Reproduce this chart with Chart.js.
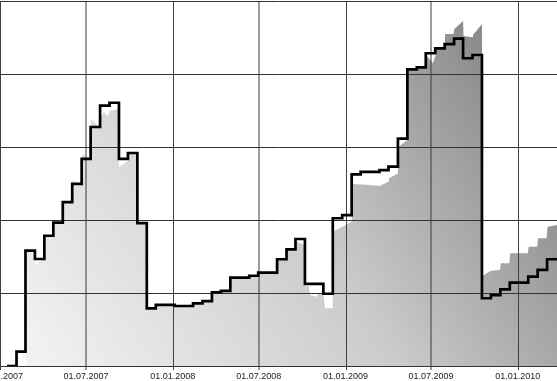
<!DOCTYPE html>
<html><head><meta charset="utf-8">
<script src="https://cdn.jsdelivr.net/npm/chart.js@4/dist/chart.umd.min.js"></script>
<style>
html,body{margin:0;padding:0;background:#fff;overflow:hidden;width:557px;height:381px;position:relative}
#c{position:absolute;left:-50px;top:0}
</style></head>
<body><canvas id="c" width="617" height="381"></canvas>
<script>
// x values are days since 01.01.2007
const tickDays = [0, 181, 365, 547, 731, 912, 1096];
const tickLabels = ['01.01.2007', '01.07.2007', '01.01.2008', '01.07.2008', '01.01.2009', '01.07.2009', '01.01.2010'];

const stepDays = [14,34,53,73,93,112,132,152,172,191,211,231,251,270,290,310,329,349,369,389,408,428,448,467,487,507,527,546,566,586,606,625,645,665,684,704,724,744,763,783,803,822,842,862,882,901,921,941,961,980,1000,1020,1039,1059,1079,1099,1118,1138,1158,1179];
const stepValues = [0,9.8,79.0,73.3,89.2,98.2,112.3,124.7,141.8,163.7,178.3,180.3,141.8,145.9,97.9,39.5,41.8,41.8,41.1,41.1,42.9,44.5,50.5,51.4,60.5,60.5,61.8,63.9,63.9,73.1,79.9,87.0,56.2,56.2,49.5,101.2,103.4,131.3,132.9,132.9,134.2,136.5,155.7,203.2,204.6,214.2,217.6,220.5,224.2,210.8,213.0,46.4,48.6,52.5,57.1,57.1,61.2,65.8,73.1,73.1];

const areaDays = [53,53,73,74,92,93,112,113,132,133,152,153,169,172,173,189,191,192,209,211,212,219,228,231,250,251,270,271,290,291,310,311,329,330,368,369,407,408,427,428,447,448,466,467,486,487,526,527,545,546,585,586,605,606,624,625,644,645,653,656,670,673,684,688,703,704,724,744,745,783,803,822,823,842,843,862,863,882,883,901,902,916,921,922,941,942,960,961,980,981,1000,1001,1020,1021,1039,1058,1060,1078,1080,1117,1119,1137,1139,1157,1159,1179];
const areaValues = [0,79.0,79.0,69.2,73.3,89.2,89.2,98.2,98.2,112.3,112.3,127.4,124.7,124.7,145.2,141.8,141.8,169.2,163.7,163.7,170.5,174.0,171.2,174.7,176.0,136.3,140.4,146.6,146.6,97.9,97.9,39.5,39.5,41.8,41.8,41.1,41.1,42.9,42.9,44.5,44.5,50.5,50.5,51.4,51.4,60.5,60.5,61.8,61.8,63.9,63.9,73.1,73.1,79.9,79.9,85.6,82.9,54.8,54.8,48.6,47.5,49.8,49.8,39.5,39.5,92.0,95.4,98.8,124.7,124.0,123.3,126.2,128.6,131.9,150.0,154.8,202.3,203.2,204.6,204.6,212.9,207.4,212.2,217.6,217.6,227.4,227.4,230.6,236.3,226.0,225.1,226.7,234.2,61.6,65.3,65.8,70.3,70.3,77.2,77.2,81.7,81.7,87.5,87.5,95.4,96.6];

const stepData = stepDays.map((d, i) => ({x: d, y: stepValues[i]}));
const areaData = areaDays.map((d, i) => ({x: d, y: areaValues[i]}));

function areaGradient(ctx) {
  const chart = ctx.chart;
  const a = chart.chartArea;
  if (!a) return '#cccccc';
  const g = chart.ctx.createLinearGradient(a.left, a.bottom, a.right, a.top);
  g.addColorStop(0, '#f6f6f6');
  g.addColorStop(0.5, '#cbcbcb');
  g.addColorStop(0.85, '#8f8f8f');
  g.addColorStop(1, '#7a7a7a');
  return g;
}

const gridOver = {
  id: 'gridOver',
  beforeDatasetDraw(chart, args) {
    if (args.index !== 0) return;
    const ctx = chart.ctx, a = chart.chartArea, xs = chart.scales.x, ys = chart.scales.y;
    ctx.save();
    ctx.lineWidth = 1;
    ctx.strokeStyle = '#333333';
    const yt = (ys.ticks && ys.ticks.length) ? ys.ticks : [];
    yt.forEach(t => {
      const py = Math.round(ys.getPixelForValue(t.value)) + 0.5;
      ctx.beginPath(); ctx.moveTo(a.left, py); ctx.lineTo(a.right, py); ctx.stroke();
    });
    xs.ticks.forEach((t, i) => {
      const raw = xs.getPixelForValue(t.value);
      const mid = tickLabels[i] && tickLabels[i].startsWith('01.07');
      const px = mid ? Math.round(raw) : Math.round(raw) + 0.5;
      ctx.strokeStyle = mid ? '#3a3a3a' : '#404040';
      ctx.beginPath(); ctx.moveTo(px, a.top); ctx.lineTo(px, a.bottom + 4); ctx.stroke();
    });
    ctx.restore();
  }
};

new Chart(document.getElementById('c'), {
  type: 'line',
  data: {
    datasets: [
      {
        data: stepData,
        stepped: true,
        borderColor: '#000000',
        borderWidth: 2.7,
        pointRadius: 0,
        fill: false,
        borderJoinStyle: 'miter'
      },
      {
        data: areaData,
        borderWidth: 0,
        borderColor: 'rgba(0,0,0,0)',
        pointRadius: 0,
        fill: 'origin',
        backgroundColor: areaGradient,
        tension: 0
      }
    ]
  },
  options: {
    responsive: false,
    animation: false,
    events: [],
    layout: {padding: {left: 50, right: 10, top: 1, bottom: 0}},
    plugins: {legend: {display: false}, tooltip: {enabled: false}},
    scales: {
      x: {
        type: 'linear',
        min: -1,
        max: 1179,
        grid: {display: false, drawTicks: false},
        border: {display: false},
        afterBuildTicks: (s) => { s.ticks = tickDays.map(v => ({value: v})); },
        afterFit: (s) => { s.height = 15; },
        ticks: {
          autoSkip: false,
          maxRotation: 0,
          minRotation: 0,
          padding: 5,
          color: '#1a1a1a',
          font: {family: "'Liberation Sans', Arial, sans-serif", size: 9},
          callback: (v, i) => tickLabels[i]
        }
      },
      y: {
        display: false,
        min: 0,
        max: 250,
        ticks: {stepSize: 50}
      }
    }
  },
  plugins: [gridOver]
});
</script>
</body></html>
